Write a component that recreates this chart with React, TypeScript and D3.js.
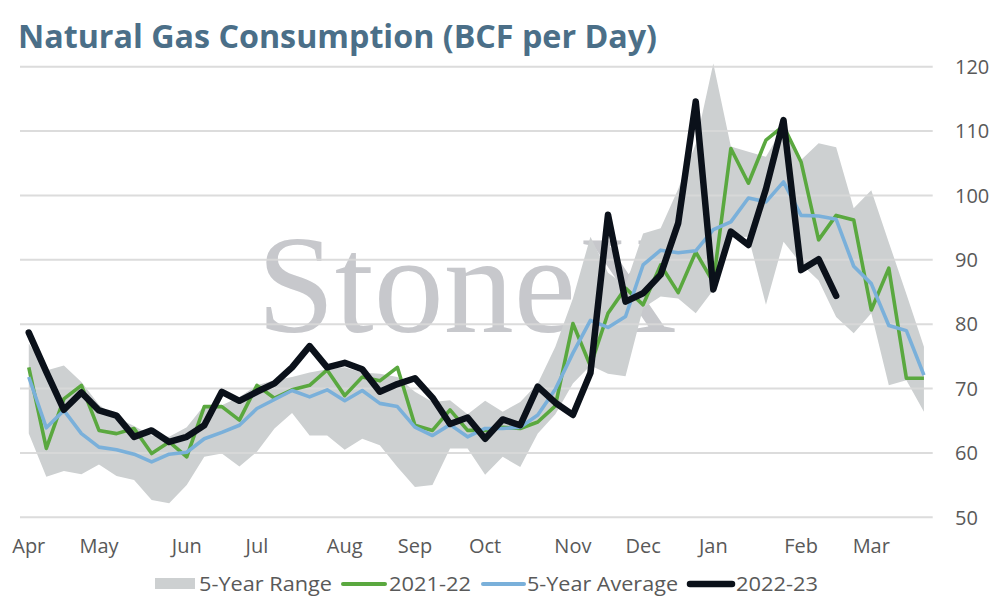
import React from "react";
import * as d3 from "d3";

const months = ["Apr", "May", "Jun", "Jul", "Aug", "Sep", "Oct", "Nov", "Dec", "Jan", "Feb", "Mar"];
const monthWeeks = [0, 4, 9, 13, 18, 22, 26, 31, 35, 39, 44, 48];
const yTicks = [50, 60, 70, 80, 90, 100, 110, 120];

const rangeHigh = [
  77, 72.8, 73.6, 71, 67.5, 65.5, 64.2, 62.7, 62.5, 64,
  67.4, 67.4, 68.7, 70.5, 71.3, 71.8, 72.5, 73.0, 73.3,
  72.5, 72.3, 71.8, 69.5, 67.9, 68.2, 66, 68.1, 66.4, 67.9,
  70.8, 76.5, 84, 93.6, 88, 86, 94.1, 94.9, 101, 108, 120.5,
  107.6, 106.8, 106, 110.7, 105.5, 108.1, 107.5, 98, 100.8, 92.7, 84.7, 76.5,
];
const rangeLow = [
  63, 56.3, 57.2, 56.7, 58.2, 56.4, 55.8, 52.7, 52.2, 55,
  59.4, 59.9, 57.9, 60.2, 63.8, 66.2, 62.7, 62.7, 60.5,
  62.2, 61.2, 57.8, 54.7, 55.0, 60.7, 60.7, 56.6, 59.4, 57.8,
  63, 66, 70.8, 73.6, 72.3, 71.9, 82.5, 84.3, 84, 81.7, 85.3,
  93.5, 93.6, 83, 92.8, 89.4, 86.8, 81.1, 78.6, 81.7, 70.5, 71.3, 66.4,
];
const series2122 = [
  73.3, 60.7, 68.4, 70.5, 63.5, 63.0, 63.8, 59.9, 61.7, 59.4,
  67.2, 67.2, 65.1, 70.5, 68.5, 69.8, 70.5, 72.9, 68.9,
  71.8, 71.2, 73.3, 64.3, 63.5, 66.7, 63.5, 63.5, 64.0, 63.8,
  64.8, 67.3, 80.1, 73.5, 81.7, 85.6, 83.0, 89.2, 84.9, 91.2, 86.5,
  107.3, 101.9, 108.6, 110.8, 105.2, 93.1, 96.9, 96.2, 82.2, 88.7, 71.6, 71.6,
];
const series5yAvg = [
  71.8, 63.9, 66.6, 63.0, 60.9, 60.5, 59.8, 58.6, 59.8, 60.1,
  62.2, 63.2, 64.3, 66.9, 68.3, 69.7, 68.7, 69.8, 68.1,
  69.7, 67.7, 67.2, 64.0, 62.7, 64.4, 62.5, 63.8, 63.8, 64.0,
  65.9, 69.9, 75.5, 80.6, 79.5, 81.2, 89.2, 91.5, 91.1, 91.4, 94.7,
  95.9, 99.6, 99.0, 102.1, 96.9, 96.8, 96.3, 89.0, 86.3, 79.8, 79.0, 72.1,
];
const series2223 = [
  78.7, 72.6, 66.7, 69.4, 66.6, 65.8, 62.5, 63.5, 61.7, 62.5,
  64.3, 69.5, 68.1, 69.5, 70.8, 73.3, 76.6, 73.3, 74.0,
  73.0, 69.5, 70.7, 71.6, 68.6, 64.5, 65.5, 62.2, 65.2, 64.3,
  70.3, 67.8, 65.9, 72.4, 97.0, 83.5, 84.8, 87.7, 95.7, 114.6, 85.4,
  94.4, 92.3, 101, 111.7, 88.4, 90.1, 84.4,
];

const legendLabels = ["5-Year Range", "2021-22", "5-Year Average", "2022-23"];

const W = 994;
const H = 600;
const FONT = "'Open Sans', 'Noto Sans', sans-serif";
const GRAY = "#cdd0d1";
const GREEN = "#5aa83f";
const BLUE = "#7ab0da";
const BLACK = "#0b111a";
const TEXT = "#595959";

export default function App() {
  const weeks = d3.range(rangeHigh.length);
  const x = d3.scalePoint<number>().domain(weeks).range([20, 932.7]).padding(0.5);
  const y = d3.scaleLinear().domain([50, 120]).range([517.3, 66.7]);

  const area = d3
    .area<number>()
    .x((i) => x(i) as number)
    .y0((i) => y(rangeLow[i]))
    .y1((i) => y(rangeHigh[i]));
  const line = (vals: number[]) =>
    d3
      .line<number>()
      .x((_, i) => x(i) as number)
      .y((v) => y(v))(vals) as string;

  return (
    <svg width={W} height={H} style={{ position: "absolute", left: 0, top: 0, background: "#fff" }}>
      <rect x={0} y={0} width={W} height={H} fill="#fff" />
      <text
        x={18}
        y={48}
        fontFamily={FONT}
        fontWeight={700}
        fontSize={32}
        fill="#4b6f88"
        textLength={639}
        lengthAdjust="spacingAndGlyphs"
      >
        Natural Gas Consumption (BCF per Day)
      </text>

      <text
        x={257}
        y={332}
        fontFamily="'Liberation Serif', 'DejaVu Serif', serif"
        fontSize={140}
        fill="#c7c8cc"
        textLength={420}
        lengthAdjust="spacingAndGlyphs"
      >
        StoneX
      </text>

      <path d={area(weeks) as string} fill={GRAY} />

      {yTicks.map((t) => (
        <g key={t}>
          <line x1={20} x2={932.7} y1={y(t)} y2={y(t)} stroke="#d9d9d9" strokeWidth={2} opacity={0.9} />
          <text
            x={955}
            y={y(t)}
            dy="0.36em"
            fontFamily={FONT}
            fontSize={20}
            fill={TEXT}
          >
            {t}
          </text>
        </g>
      ))}

      {months.map((m, k) => (
        <text
          key={m}
          x={x(monthWeeks[k]) as number}
          y={553}
          textAnchor="middle"
          fontFamily={FONT}
          fontSize={20}
          fill={TEXT}
        >
          {m}
        </text>
      ))}

      <path d={line(series2122)} fill="none" stroke={GREEN} strokeWidth={3.6} strokeLinejoin="round" />
      <path d={line(series5yAvg)} fill="none" stroke={BLUE} strokeWidth={3.6} strokeLinejoin="round" />
      <path d={line(series2223)} fill="none" stroke={BLACK} strokeWidth={6.5} strokeLinejoin="round" strokeLinecap="round" />

      <g fontFamily={FONT} fontSize={20} fill={TEXT}>
        <rect x={155} y={578} width={40} height={11} fill={GRAY} />
        <text x={199} y={584} dy="0.36em" textLength={133} lengthAdjust="spacingAndGlyphs">
          {legendLabels[0]}
        </text>
        <line x1={343} x2={385} y1={584} y2={584} stroke={GREEN} strokeWidth={4} strokeLinecap="round" />
        <text x={389} y={584} dy="0.36em" textLength={82} lengthAdjust="spacingAndGlyphs">
          {legendLabels[1]}
        </text>
        <line x1={483} x2={524} y1={584} y2={584} stroke={BLUE} strokeWidth={4} strokeLinecap="round" />
        <text x={527} y={584} dy="0.36em" textLength={151} lengthAdjust="spacingAndGlyphs">
          {legendLabels[2]}
        </text>
        <line x1={690} x2={732} y1={584} y2={584} stroke={BLACK} strokeWidth={6.5} strokeLinecap="round" />
        <text x={736} y={584} dy="0.36em" textLength={82} lengthAdjust="spacingAndGlyphs">
          {legendLabels[3]}
        </text>
      </g>
    </svg>
  );
}
